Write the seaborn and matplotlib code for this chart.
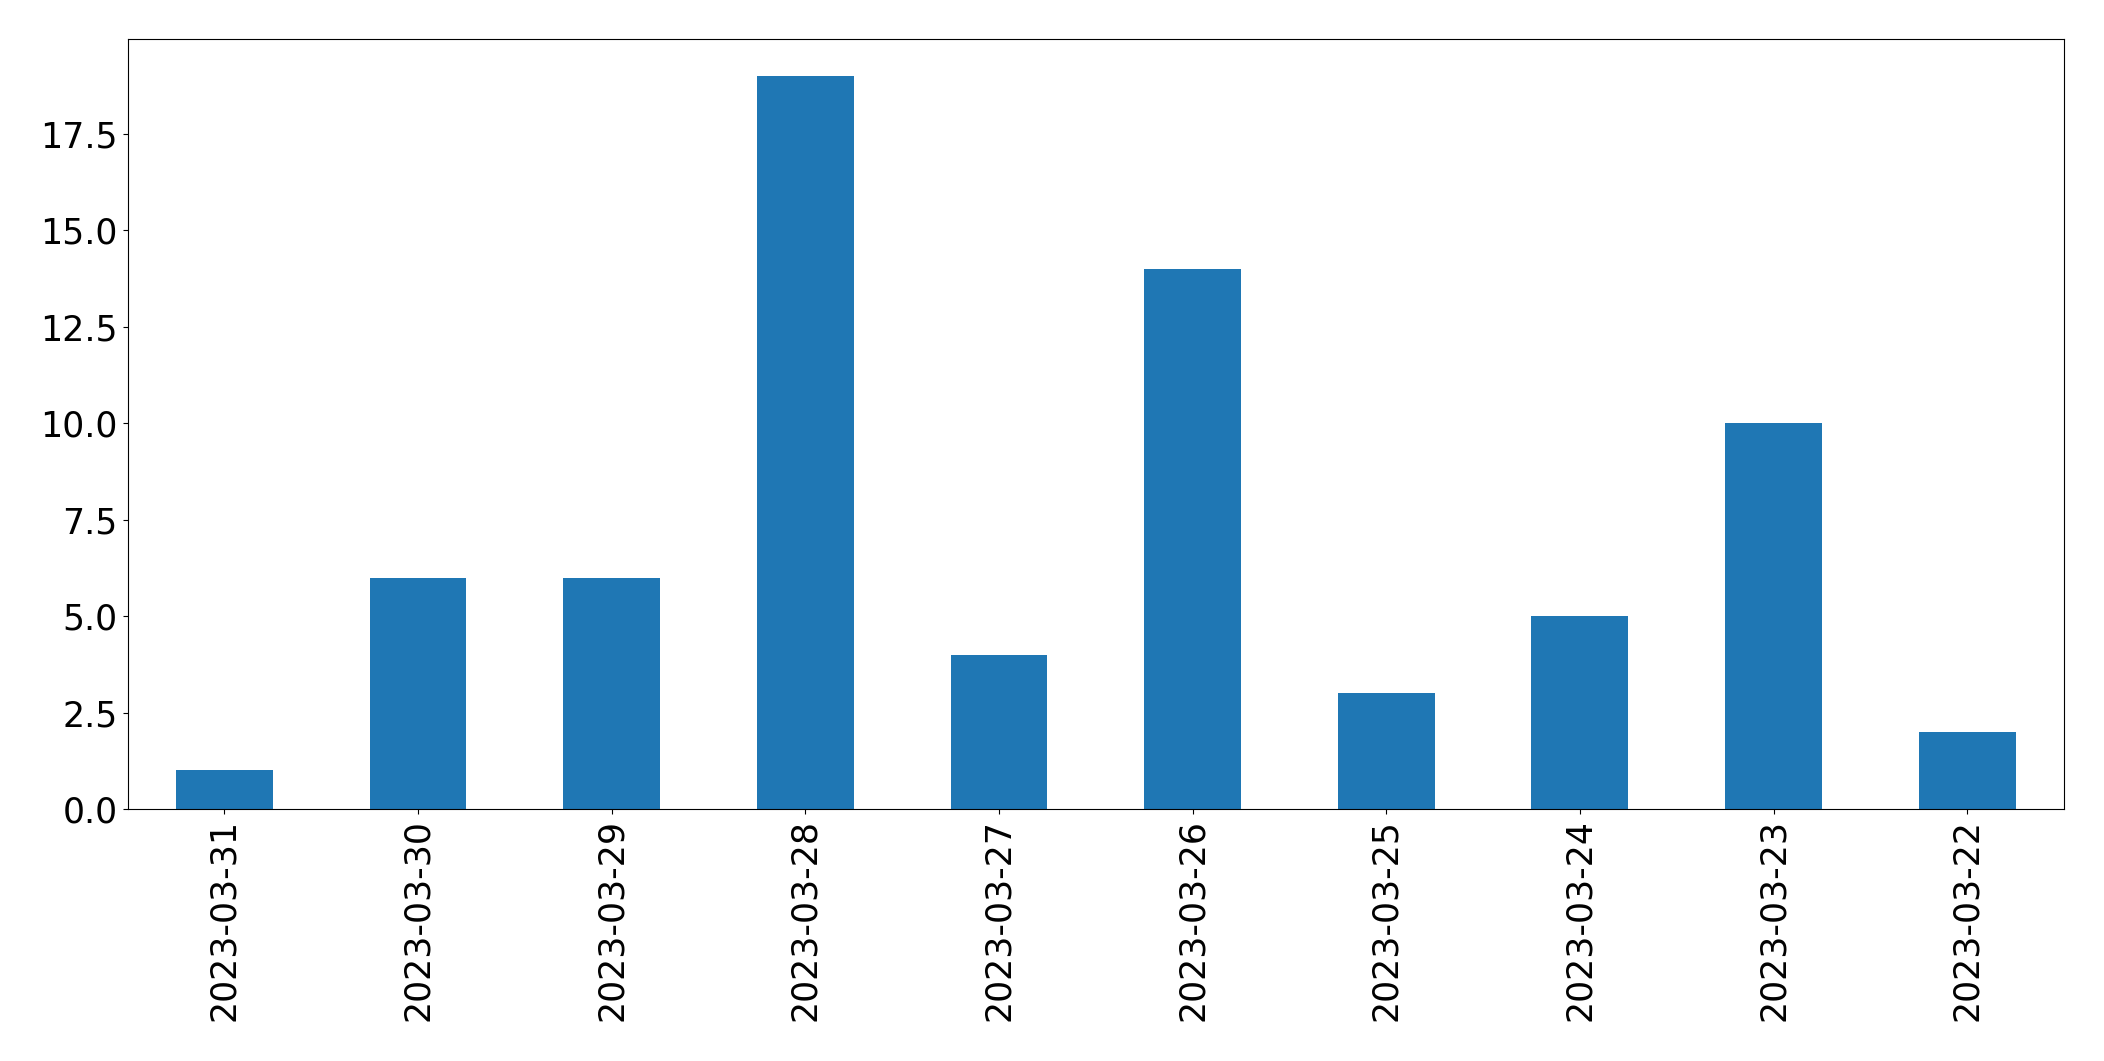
import pandas as pd
import seaborn as sns
from matplotlib import pyplot as plt

# counts per day, newest first
dates = ["2023-03-31", "2023-03-30", "2023-03-29", "2023-03-28", "2023-03-27",
         "2023-03-26", "2023-03-25", "2023-03-24", "2023-03-23", "2023-03-22"]
counts = [1, 6, 6, 19, 4, 14, 3, 5, 10, 2]

df = pd.DataFrame({"date": dates, "count": counts})

fig = plt.figure(figsize=(21.04, 10.61), dpi=100)
ax = fig.add_axes([0.0606, 0.2375, 0.9204, 0.7255])
sns.barplot(data=df, x="date", y="count", order=dates, color="#1f77b4",
            saturation=1, width=0.5, linewidth=0, ax=ax)
ax.set_xlim(-0.5, len(dates) - 0.5)
ax.set_ylim(0, max(counts) * 1.05)
ax.set_xlabel("")
ax.set_ylabel("")
ax.tick_params(labelsize=25)
ax.tick_params(axis="x", labelrotation=90)
fig.savefig("out.png", dpi=100)
